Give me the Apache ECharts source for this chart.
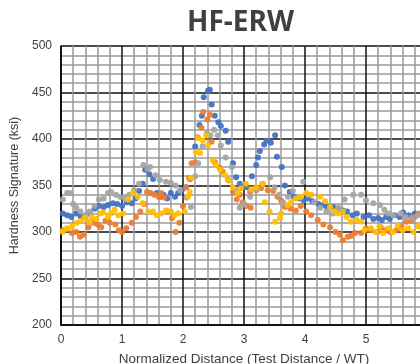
<!DOCTYPE html>
<html>
<head>
<meta charset="utf-8">
<script src="https://cdn.jsdelivr.net/npm/echarts@6/dist/echarts.min.js"></script>
<style>
  html, body { margin: 0; padding: 0; background: #fff; }
  #chart { width: 420px; height: 364px; }
</style>
</head>
<body>
<div id="chart"></div>
<script>
// four test series, [normalized distance, hardness ksi]
const blue = [[0.03,320],[0.1,318],[0.17,316],[0.25,320],[0.32,317],[0.4,316],[0.47,320],[0.55,325],[0.62,328],[0.7,327],[0.77,329],[0.85,331],[0.92,330],[1.0,328],[1.08,332],[1.16,331],[1.22,336],[1.28,344],[1.34,352],[1.38,367],[1.45,362],[1.51,357],[1.57,342],[1.63,338],[1.68,340],[1.74,336],[1.8,342],[1.87,338],[1.92,342],[1.98,345],[2.05,348],[2.12,357],[2.2,392],[2.27,415],[2.31,425],[2.34,445],[2.41,452],[2.44,453],[2.47,437],[2.52,425],[2.58,418],[2.62,414],[2.7,409],[2.74,397],[2.82,374],[2.87,359],[2.93,352],[2.98,348],[3.05,348],[3.13,360],[3.2,372],[3.23,380],[3.26,387],[3.33,394],[3.37,398],[3.44,396],[3.51,404],[3.54,381],[3.62,370],[3.67,350],[3.75,343],[3.82,338],[3.9,336],[3.98,334],[4.05,336],[4.12,333],[4.22,330],[4.3,329],[4.36,327],[4.46,327],[4.55,324],[4.62,323],[4.69,322],[4.78,318],[4.85,320],[4.96,316],[5.05,318],[5.12,314],[5.2,315],[5.26,313],[5.33,316],[5.39,314],[5.47,318],[5.55,316],[5.61,321],[5.7,318],[5.8,320]];
const orange = [[0.03,302],[0.1,303],[0.18,299],[0.25,300],[0.31,295],[0.37,297],[0.45,305],[0.53,310],[0.6,308],[0.66,305],[0.73,312],[0.8,310],[0.89,308],[0.95,302],[1.0,300],[1.07,304],[1.16,310],[1.23,316],[1.3,322],[1.36,330],[1.41,343],[1.47,342],[1.53,340],[1.6,338],[1.64,342],[1.69,337],[1.75,322],[1.82,315],[1.88,300],[1.94,310],[2.0,328],[2.05,348],[2.1,358],[2.14,374],[2.2,375],[2.24,402],[2.3,412],[2.33,429],[2.4,421],[2.44,426],[2.47,397],[2.52,375],[2.6,369],[2.65,365],[2.74,356],[2.82,343],[2.88,335],[2.93,340],[2.98,332],[3.04,328],[3.11,326],[3.1,343],[3.2,345],[3.28,347],[3.39,345],[3.48,344],[3.55,338],[3.61,334],[3.67,327],[3.76,325],[3.85,323],[3.93,328],[4.02,322],[4.1,318],[4.21,313],[4.3,308],[4.41,305],[4.5,300],[4.57,297],[4.62,291],[4.7,295],[4.76,296],[4.82,299],[4.92,299],[5.0,304],[5.08,302],[5.18,300],[5.24,305],[5.31,302],[5.4,300],[5.5,302],[5.58,306],[5.66,311],[5.74,312],[5.8,316],[5.88,320]];
const gray = [[0.03,335],[0.1,342],[0.15,342],[0.2,330],[0.25,326],[0.32,322],[0.4,318],[0.47,322],[0.55,328],[0.62,335],[0.7,336],[0.77,342],[0.82,343],[0.9,340],[0.97,338],[1.05,336],[1.12,340],[1.2,345],[1.28,352],[1.35,372],[1.42,368],[1.46,370],[1.55,361],[1.62,356],[1.72,354],[1.8,353],[1.88,350],[1.95,345],[2.06,337],[2.13,327],[2.2,360],[2.25,374],[2.32,392],[2.39,406],[2.45,404],[2.51,410],[2.57,404],[2.62,393],[2.7,380],[2.8,370],[2.87,345],[2.93,326],[3.0,330],[3.1,338],[3.2,345],[3.3,352],[3.43,359],[3.5,348],[3.58,340],[3.64,332],[3.72,338],[3.8,344],[3.92,337],[3.97,354],[4.05,340],[4.15,332],[4.25,326],[4.35,322],[4.46,320],[4.55,326],[4.65,335],[4.79,340],[4.92,340],[5.0,334],[5.12,331],[5.23,329],[5.3,324],[5.36,320],[5.45,318],[5.57,320],[5.65,316],[5.75,315],[5.85,318]];
const yellow = [[0.03,300],[0.1,304],[0.18,306],[0.26,310],[0.33,312],[0.39,315],[0.47,311],[0.5,316],[0.58,314],[0.64,320],[0.69,321],[0.77,316],[0.82,320],[0.88,324],[0.94,318],[1.02,320],[1.1,335],[1.18,342],[1.26,338],[1.34,331],[1.43,322],[1.51,322],[1.57,318],[1.64,320],[1.72,323],[1.8,322],[1.86,318],[1.92,320],[2.03,322],[2.08,338],[2.11,343],[2.13,358],[2.21,386],[2.25,401],[2.28,385],[2.33,398],[2.38,404],[2.41,393],[2.49,377],[2.54,372],[2.61,367],[2.69,361],[2.75,355],[2.82,348],[2.9,342],[2.95,347],[3.03,352],[3.12,346],[3.2,348],[3.31,352],[3.34,332],[3.42,322],[3.51,311],[3.59,315],[3.61,320],[3.72,329],[3.77,332],[3.85,336],[3.93,338],[4.02,342],[4.1,340],[4.25,338],[4.33,333],[4.41,327],[4.48,322],[4.54,320],[4.62,322],[4.68,316],[4.75,311],[4.85,313],[4.92,311],[4.98,302],[5.08,304],[5.16,300],[5.22,306],[5.28,299],[5.36,304],[5.44,300],[5.52,307],[5.6,302],[5.69,304],[5.78,300],[5.86,306]];

const seriesList = [
  { name: 'Series 1', data: blue, color: '#4472C4' },
  { name: 'Series 2', data: orange, color: '#ED7D31' },
  { name: 'Series 3', data: gray, color: '#A5A5A5' },
  { name: 'Series 4', data: yellow, color: '#FFC000' },
];

const labelStyle = { fontFamily: 'Liberation Sans', fontSize: 12, color: '#404040' };

const chart = echarts.init(document.getElementById('chart'));
chart.setOption({
  animation: false,
  title: {
    text: 'HF-ERW',
    left: 182,
    top: 4,
    textStyle: { fontFamily: 'Open Sans', fontWeight: 'bold', fontSize: 28, color: '#404040' },
  },
  // plot runs past the right edge, as in the cropped original
  grid: { left: 61, top: 46, width: 366, height: 279, outerBoundsMode: 'none' },
  xAxis: {
    type: 'value',
    min: 0,
    max: 6,
    interval: 1,
    name: 'Normalized Distance (Test Distance / WT)',
    nameLocation: 'middle',
    nameGap: 27,
    nameTextStyle: { ...labelStyle, fontSize: 13.5 },
    axisLabel: { ...labelStyle, margin: 9 },
    axisLine: { show: true, lineStyle: { color: '#000', width: 1.5 } },
    axisTick: { show: false },
    splitLine: { show: true, lineStyle: { color: '#111', width: 1.5 } },
    minorTick: { show: false, splitNumber: 5 },
    minorSplitLine: { show: true, lineStyle: { color: '#9a9a9a', width: 1.5 } },
  },
  yAxis: {
    type: 'value',
    min: 200,
    max: 500,
    interval: 50,
    name: 'Hardness Signature (ksi)',
    nameLocation: 'middle',
    nameGap: 33,
    nameTextStyle: { ...labelStyle, fontSize: 12.5 },
    axisLabel: { ...labelStyle, margin: 9 },
    axisLine: { show: true, lineStyle: { color: '#000', width: 1.5 } },
    axisTick: { show: false },
    splitLine: { show: true, lineStyle: { color: '#111', width: 1.5 } },
    minorTick: { show: false, splitNumber: 5 },
    minorSplitLine: { show: true, lineStyle: { color: '#9a9a9a', width: 1.5 } },
  },
  series: seriesList.map(s => ({
    name: s.name,
    type: 'scatter',
    data: s.data,
    symbolSize: 6,
    itemStyle: { color: s.color, opacity: 0.95 },
  })),
});
</script>
</body>
</html>
